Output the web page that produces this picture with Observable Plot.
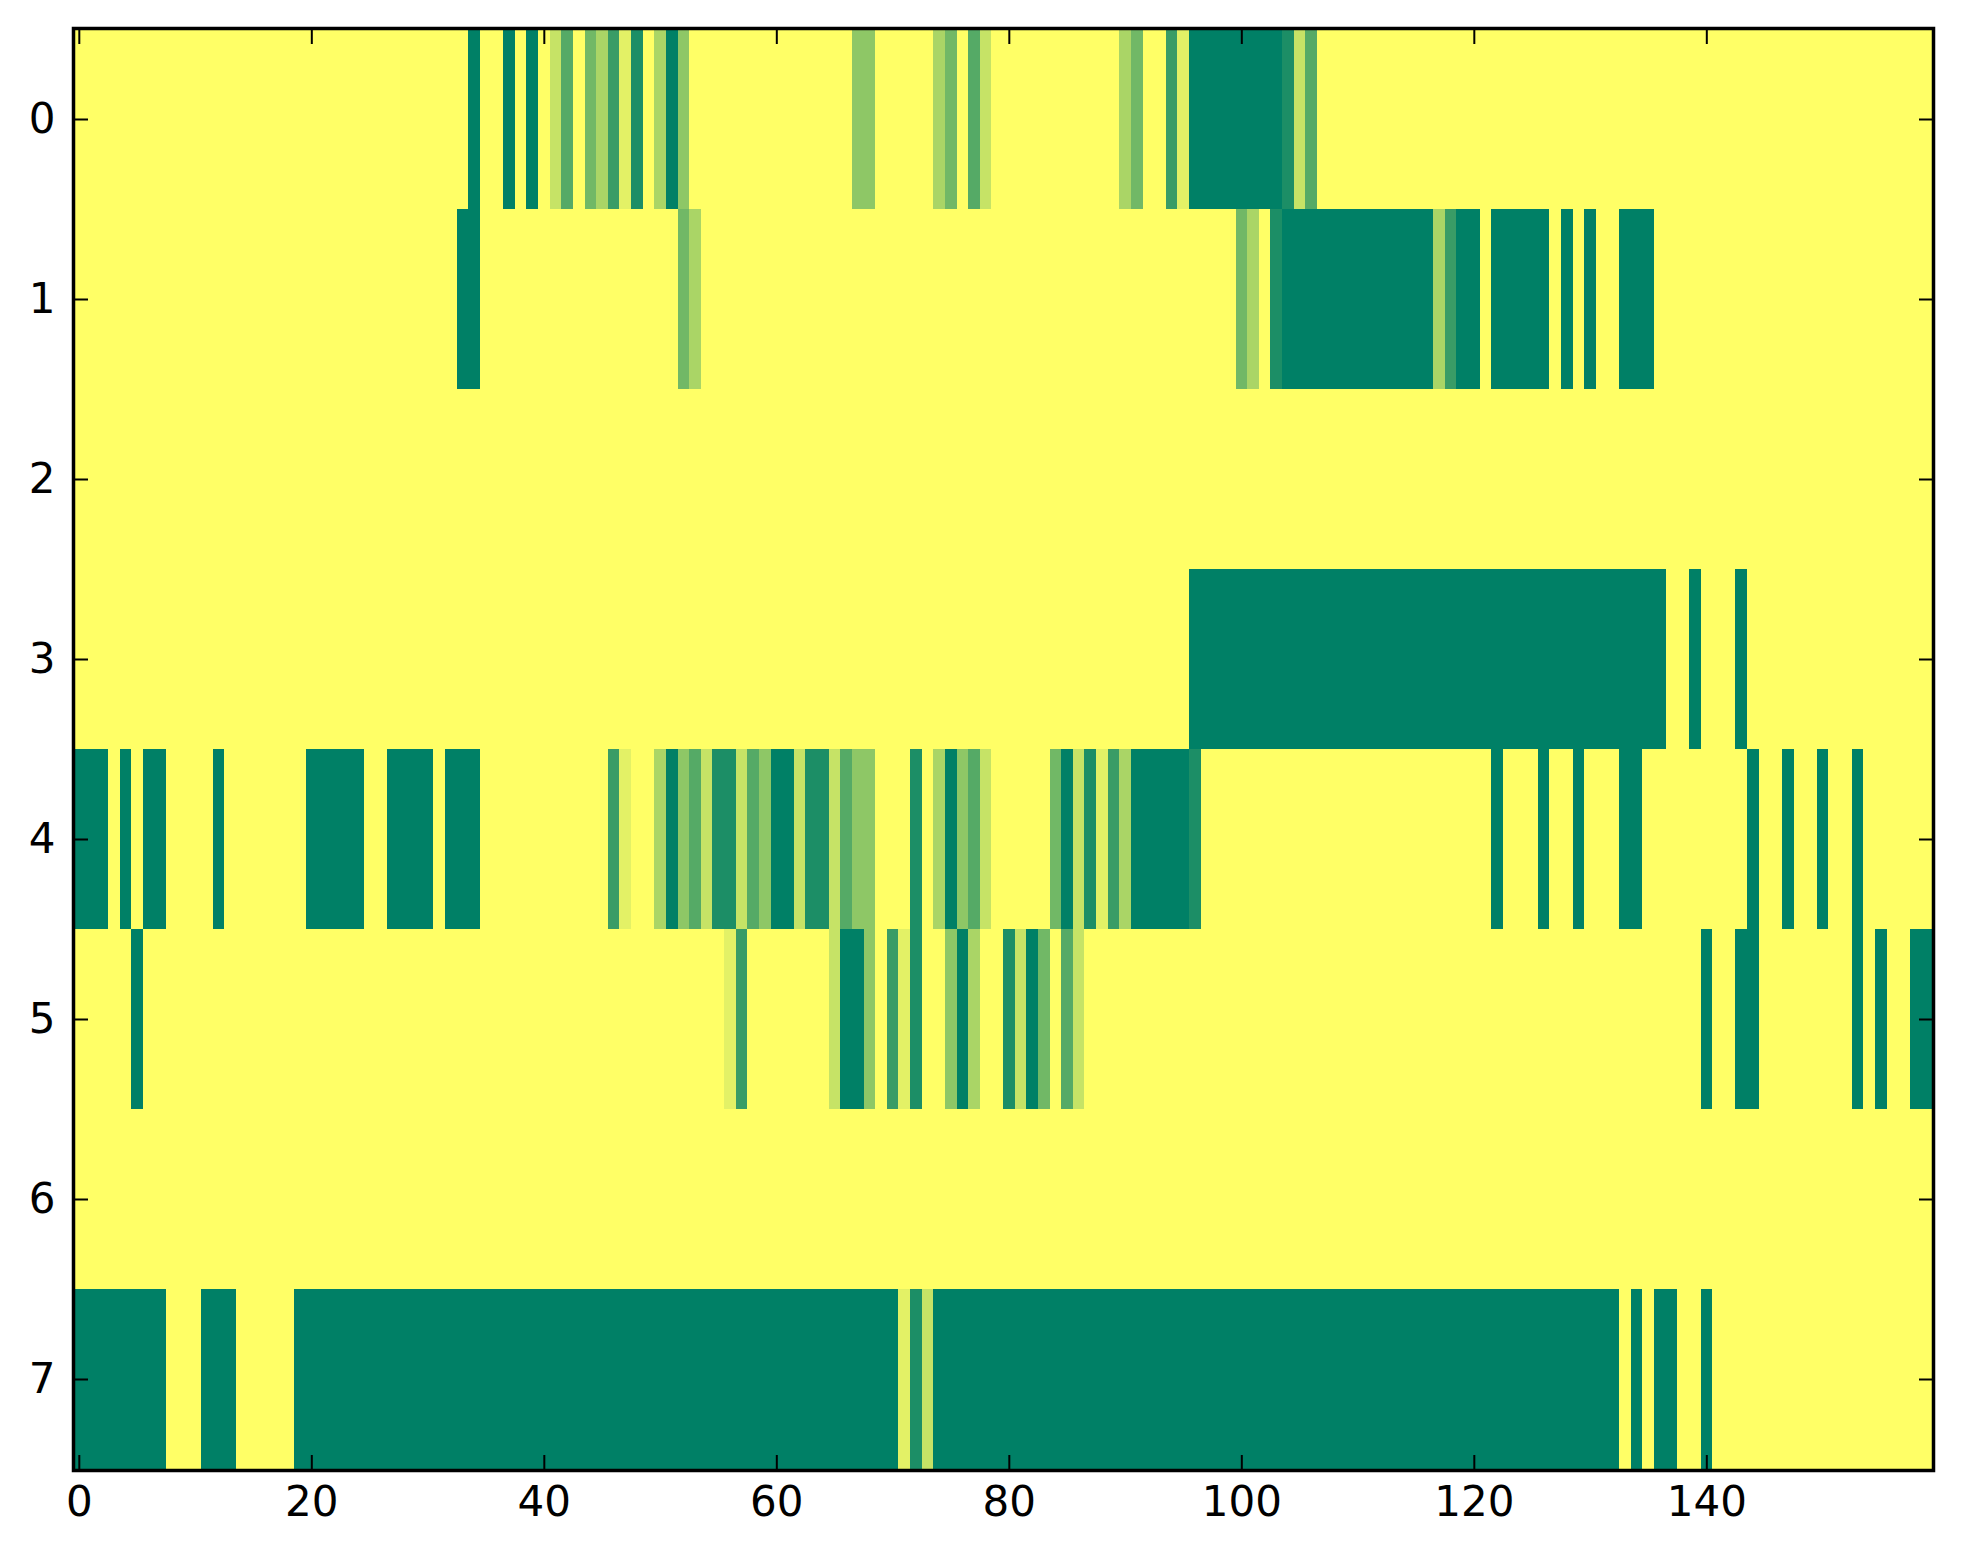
<!DOCTYPE html>
<html>
<head>
<meta charset="utf-8">
<script src="https://cdn.jsdelivr.net/npm/d3@7"></script>
<script src="https://cdn.jsdelivr.net/npm/@observablehq/plot@0.6"></script>
<style>
  html, body { margin: 0; padding: 0; background: #ffffff; }
  svg { display: block; }
</style>
</head>
<body>
<div id="chart"></div>
<script>
// Values are levels 0..9 (colour: yellow = 0, dark green = 9), one array per row, 160 columns each.
const row0 = [
  0,0,0,0,0,0,0,0,0,0, 0,0,0,0,0,0,0,0,0,0,
  0,0,0,0,0,0,0,0,0,0, 0,0,0,0,9,0,0,9,0,9,
  0,2,6,0,5,3,7,1,8,0, 3,9,4,0,0,0,0,0,0,0,
  0,0,0,0,0,0,0,4,4,0, 0,0,0,0,3,5,0,6,2,0,
  0,0,0,0,0,0,0,0,0,0, 3,5,0,0,7,1,9,9,9,9,
  9,9,9,9,8,2,6,0,0,0, 0,0,0,0,0,0,0,0,0,0,
  0,0,0,0,0,0,0,0,0,0, 0,0,0,0,0,0,0,0,0,0,
  0,0,0,0,0,0,0,0,0,0, 0,0,0,0,0,0,0,0,0,0
];
const row1 = [
  0,0,0,0,0,0,0,0,0,0, 0,0,0,0,0,0,0,0,0,0,
  0,0,0,0,0,0,0,0,0,0, 0,0,0,9,9,0,0,0,0,0,
  0,0,0,0,0,0,0,0,0,0, 0,0,5,3,0,0,0,0,0,0,
  0,0,0,0,0,0,0,0,0,0, 0,0,0,0,0,0,0,0,0,0,
  0,0,0,0,0,0,0,0,0,0, 0,0,0,0,0,0,0,0,0,0,
  5,3,0,8,9,9,9,9,9,9, 9,9,9,9,9,9,9,3,7,9,
  9,0,9,9,9,9,9,0,9,0, 9,0,0,9,9,9,0,0,0,0,
  0,0,0,0,0,0,0,0,0,0, 0,0,0,0,0,0,0,0,0,0
];
const row2 = [
  0,0,0,0,0,0,0,0,0,0, 0,0,0,0,0,0,0,0,0,0,
  0,0,0,0,0,0,0,0,0,0, 0,0,0,0,0,0,0,0,0,0,
  0,0,0,0,0,0,0,0,0,0, 0,0,0,0,0,0,0,0,0,0,
  0,0,0,0,0,0,0,0,0,0, 0,0,0,0,0,0,0,0,0,0,
  0,0,0,0,0,0,0,0,0,0, 0,0,0,0,0,0,0,0,0,0,
  0,0,0,0,0,0,0,0,0,0, 0,0,0,0,0,0,0,0,0,0,
  0,0,0,0,0,0,0,0,0,0, 0,0,0,0,0,0,0,0,0,0,
  0,0,0,0,0,0,0,0,0,0, 0,0,0,0,0,0,0,0,0,0
];
const row3 = [
  0,0,0,0,0,0,0,0,0,0, 0,0,0,0,0,0,0,0,0,0,
  0,0,0,0,0,0,0,0,0,0, 0,0,0,0,0,0,0,0,0,0,
  0,0,0,0,0,0,0,0,0,0, 0,0,0,0,0,0,0,0,0,0,
  0,0,0,0,0,0,0,0,0,0, 0,0,0,0,0,0,0,0,0,0,
  0,0,0,0,0,0,0,0,0,0, 0,0,0,0,0,0,9,9,9,9,
  9,9,9,9,9,9,9,9,9,9, 9,9,9,9,9,9,9,9,9,9,
  9,9,9,9,9,9,9,9,9,9, 9,9,9,9,9,9,9,0,0,9,
  0,0,0,9,0,0,0,0,0,0, 0,0,0,0,0,0,0,0,0,0
];
const row4 = [
  9,9,9,0,9,0,9,9,0,0, 0,0,9,0,0,0,0,0,0,0,
  9,9,9,9,9,0,0,9,9,9, 9,0,9,9,9,0,0,0,0,0,
  0,0,0,0,0,0,7,1,0,0, 3,9,4,6,2,8,8,2,6,4,
  9,9,2,8,8,2,6,4,4,0, 0,0,8,0,3,9,4,6,2,0,
  0,0,0,0,5,9,2,8,1,7, 3,9,9,9,9,9,8,0,0,0,
  0,0,0,0,0,0,0,0,0,0, 0,0,0,0,0,0,0,0,0,0,
  0,0,9,0,0,0,9,0,0,9, 0,0,0,9,9,0,0,0,0,0,
  0,0,0,0,9,0,0,9,0,0, 9,0,0,9,0,0,0,0,0,0
];
const row5 = [
  0,0,0,0,0,9,0,0,0,0, 0,0,0,0,0,0,0,0,0,0,
  0,0,0,0,0,0,0,0,0,0, 0,0,0,0,0,0,0,0,0,0,
  0,0,0,0,0,0,0,0,0,0, 0,0,0,0,0,0,1,7,0,0,
  0,0,0,0,0,2,9,9,4,0, 7,1,8,0,0,4,9,3,0,0,
  8,2,9,5,0,6,2,0,0,0, 0,0,0,0,0,0,0,0,0,0,
  0,0,0,0,0,0,0,0,0,0, 0,0,0,0,0,0,0,0,0,0,
  0,0,0,0,0,0,0,0,0,0, 0,0,0,0,0,0,0,0,0,0,
  9,0,0,9,9,0,0,0,0,0, 0,0,0,9,0,9,0,0,9,9
];
const row6 = [
  0,0,0,0,0,0,0,0,0,0, 0,0,0,0,0,0,0,0,0,0,
  0,0,0,0,0,0,0,0,0,0, 0,0,0,0,0,0,0,0,0,0,
  0,0,0,0,0,0,0,0,0,0, 0,0,0,0,0,0,0,0,0,0,
  0,0,0,0,0,0,0,0,0,0, 0,0,0,0,0,0,0,0,0,0,
  0,0,0,0,0,0,0,0,0,0, 0,0,0,0,0,0,0,0,0,0,
  0,0,0,0,0,0,0,0,0,0, 0,0,0,0,0,0,0,0,0,0,
  0,0,0,0,0,0,0,0,0,0, 0,0,0,0,0,0,0,0,0,0,
  0,0,0,0,0,0,0,0,0,0, 0,0,0,0,0,0,0,0,0,0
];
const row7 = [
  9,9,9,9,9,9,9,9,0,0, 0,9,9,9,0,0,0,0,0,9,
  9,9,9,9,9,9,9,9,9,9, 9,9,9,9,9,9,9,9,9,9,
  9,9,9,9,9,9,9,9,9,9, 9,9,9,9,9,9,9,9,9,9,
  9,9,9,9,9,9,9,9,9,9, 9,1,8,2,9,9,9,9,9,9,
  9,9,9,9,9,9,9,9,9,9, 9,9,9,9,9,9,9,9,9,9,
  9,9,9,9,9,9,9,9,9,9, 9,9,9,9,9,9,9,9,9,9,
  9,9,9,9,9,9,9,9,9,9, 9,9,9,0,9,0,9,9,0,0,
  9,0,0,0,0,0,0,0,0,0, 0,0,0,0,0,0,0,0,0,0
];

const rowLabels = [0, 1, 2, 3, 4, 5, 6, 7];
const xTickLabels = [0, 20, 40, 60, 80, 100, 120, 140];
const levelDomain = [0, 9];

const rows = [row0, row1, row2, row3, row4, row5, row6, row7];
const columns = d3.range(row0.length);
const cells = rows.flatMap((r, i) => r.map((v, j) => ({row: rowLabels[i], col: j, value: v})));

const font = "'DejaVu Sans', 'Liberation Sans', sans-serif";

const chart = Plot.plot({
  width: 1963,
  height: 1564,
  marginLeft: 73,
  marginRight: 30,
  marginTop: 28,
  marginBottom: 94,
  style: {fontFamily: font, color: "black", background: "white"},
  x: {type: "band", domain: columns, padding: 0, label: null},
  y: {type: "band", domain: rowLabels, padding: 0, label: null},
  color: {type: "linear", domain: levelDomain, interpolate: d3.interpolateRgb("#ffff66", "#008066")},
  marks: [
    Plot.cell(cells, {x: "col", y: "row", fill: "value", shapeRendering: "crispEdges"}),
    // inward ticks (no labels)
    Plot.axisX({anchor: "bottom", ticks: xTickLabels, tickSize: -15, tickFormat: () => "", strokeWidth: 2, stroke: "black", label: null}),
    Plot.axisX({anchor: "top", ticks: xTickLabels, tickSize: -15, tickFormat: () => "", strokeWidth: 2, stroke: "black", label: null}),
    Plot.axisY({anchor: "left", ticks: rowLabels, tickSize: -15, tickFormat: () => "", strokeWidth: 2, stroke: "black", label: null}),
    Plot.axisY({anchor: "right", ticks: rowLabels, tickSize: -15, tickFormat: () => "", strokeWidth: 2, stroke: "black", label: null}),
    // labels
    Plot.axisX({anchor: "bottom", ticks: xTickLabels, tickSize: 0, tickPadding: 16, fontSize: 42, fill: "black", label: null}),
    Plot.axisY({anchor: "left", ticks: rowLabels, tickSize: 0, tickPadding: 18, fontSize: 42, fill: "black", label: null}),
    Plot.frame({stroke: "black", strokeWidth: 3.5})
  ]
});
document.getElementById("chart").appendChild(chart);
</script>
</body>
</html>
